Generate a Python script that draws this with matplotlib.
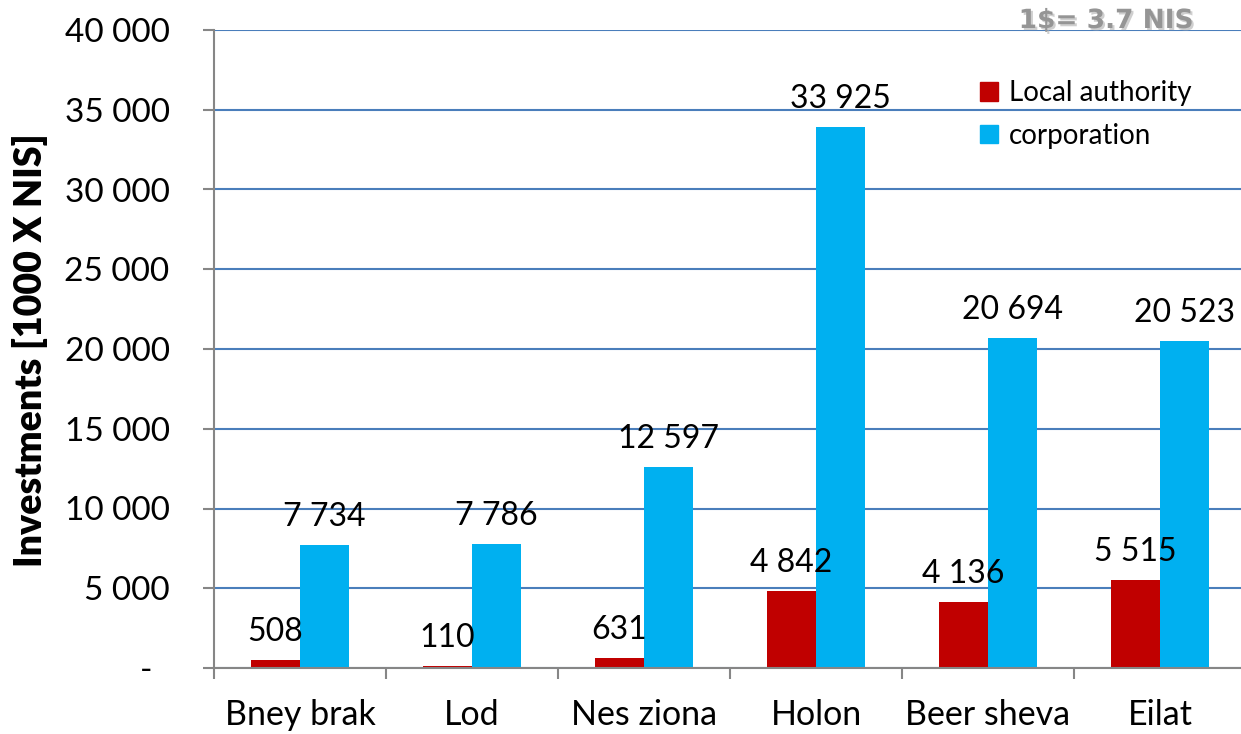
import matplotlib
matplotlib.use("Agg")
import matplotlib.pyplot as plt
import matplotlib.patheffects as pe
from matplotlib.patches import Patch
import numpy as np

categories = ["Bney brak", "Lod", "Nes ziona", "Holon", "Beer sheva", "Eilat"]
local_authority = [508, 110, 631, 4842, 4136, 5515]
corporation = [7734, 7786, 12597, 33925, 20694, 20523]
series_names = ["Local authority", "corporation"]
y_ticks = [0, 5000, 10000, 15000, 20000, 25000, 30000, 35000, 40000]

RED = "#C00000"
CYAN = "#00B0F0"
GRID = "#4A7EBB"
AXC = "#868686"
FONT = "Lato"

def fmt(v):
    return "{:,}".format(v).replace(",", " ")

W, H = 1241, 734
fig = plt.figure(figsize=(W / 100, H / 100), dpi=100)
ax = fig.add_axes([214 / W, 1 - 668 / H, 1032 / W, (668 - 30) / H])

x = np.arange(len(categories))
bw = 0.285
b1 = ax.bar(x - bw / 2, local_authority, bw, color=RED, zorder=3)
b2 = ax.bar(x + bw / 2, corporation, bw, color=CYAN, zorder=3)

for bars, vals in ((b1, local_authority), (b2, corporation)):
    for r, v in zip(bars, vals):
        ax.annotate(fmt(v), (r.get_x() + r.get_width() / 2, v),
                    xytext=(0, 13.5), textcoords="offset points",
                    ha="center", va="baseline", fontsize=23, family=FONT,
                    color="black", zorder=5)

ax.set_xlim(-0.5, len(categories) - 0.5)
ax.set_ylim(0, 40000)
ax.set_yticks(y_ticks)
ax.set_yticklabels(["-  " if t == 0 else fmt(t) for t in y_ticks],
                   fontsize=24, family=FONT)
ax.yaxis.grid(True, color=GRID, linewidth=1.5, zorder=0)
ax.set_axisbelow(True)

ax.set_xticks(np.arange(len(categories) + 1) - 0.5)
ax.set_xticklabels([])
ax.set_xticks(x, minor=True)
ax.set_xticklabels(categories, minor=True, fontsize=24.5, family=FONT)
ax.tick_params(axis="x", which="major", length=8, width=1.5, color=AXC)
ax.tick_params(axis="x", which="minor", length=0, pad=22)
ax.tick_params(axis="y", length=8, width=1.5, color=AXC, pad=24)

for s in ("top", "right"):
    ax.spines[s].set_visible(False)
for s in ("left", "bottom"):
    ax.spines[s].set_color(AXC)
    ax.spines[s].set_linewidth(1.5)
    ax.spines[s].set_zorder(4)

handles = [Patch(color=RED), Patch(color=CYAN)]
fig.legend(handles, series_names, loc="upper left",
           bbox_to_anchor=(955 / W, 1 - 55 / H), frameon=False,
           prop={"family": FONT, "size": 20}, handlelength=0.65,
           handleheight=0.65, handletextpad=0.4, labelspacing=0.6)

fig.text(30 / W, 1 - 350 / H, "Investments [1000 X NIS]", rotation=90,
         ha="center", va="center", fontsize=27, fontweight="heavy", family=FONT)

t = fig.text(1106 / W, 1 - 21 / H, "1$= 3.7 NIS", ha="center", va="center",
             fontsize=19, fontweight="bold", family="DejaVu Sans", color="#959595")
t.set_path_effects([pe.SimplePatchShadow(offset=(1.5, -1.5), shadow_rgbFace="#B0B0B0", alpha=0.6),
                    pe.Normal()])

fig.savefig("out.png", dpi=100)
